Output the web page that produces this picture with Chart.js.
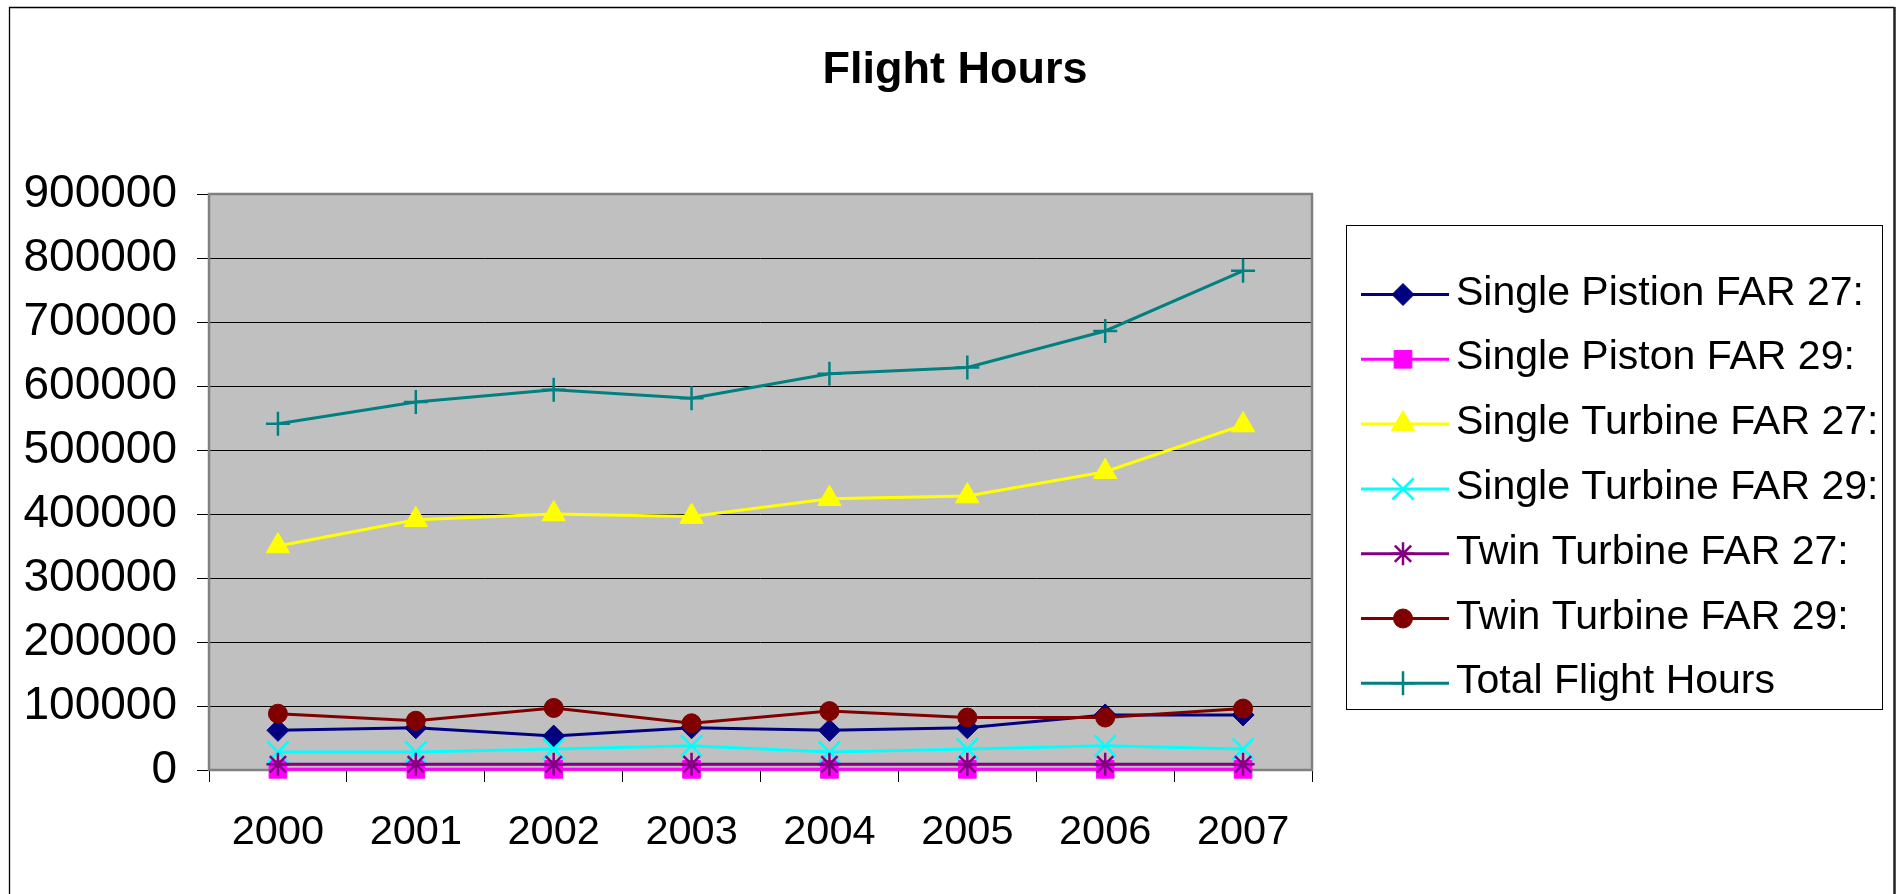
<!DOCTYPE html>
<html>
<head>
<meta charset="utf-8">
<title>Flight Hours</title>
<script src="https://cdn.jsdelivr.net/npm/chart.js@4.4.1/dist/chart.umd.min.js"></script>
<style>
  html, body { margin: 0; padding: 0; background: #fff; overflow: hidden; }
  #wrap { width: 1902px; height: 894px; position: relative; }
  canvas { display: block; }
</style>
</head>
<body>
<div id="wrap"><canvas id="chart" width="1902" height="894"></canvas></div>
<script>
// Flight hours per year, by aircraft category
const years = ['2000', '2001', '2002', '2003', '2004', '2005', '2006', '2007'];

const singlePistonFar27  = [62000, 66000, 53000, 66000, 62000, 66000, 86000, 86000];
const singlePistonFar29  = [1000, 1000, 1000, 1000, 1000, 1000, 1000, 1000];
const singleTurbineFar27 = [350000, 391000, 400000, 396000, 424000, 428000, 466000, 539000];
const singleTurbineFar29 = [28000, 28000, 33000, 38000, 28000, 33000, 38000, 33000];
const twinTurbineFar27   = [9000, 9000, 9000, 9000, 9000, 9000, 9000, 9000];
const twinTurbineFar29   = [88000, 77000, 97000, 73000, 92000, 82000, 82000, 96000];
const totalFlightHours   = [541000, 575000, 594000, 581000, 619000, 629000, 686000, 780000];

const seriesNames = [
  'Single Pistion FAR 27:',
  'Single Piston FAR 29:',
  'Single Turbine FAR 27:',
  'Single Turbine FAR 29:',
  'Twin Turbine FAR 27:',
  'Twin Turbine FAR 29:',
  'Total Flight Hours'
];

const yMin = 0;
const yMax = 900000;
const yStep = 100000;

const chartTitle = 'Flight Hours';
const FONT = '"Liberation Sans", Arial, Helvetica, sans-serif';

function series(i, data, color, style, radius, bw) {
  return {
    label: seriesNames[i],
    data: data,
    borderColor: color,
    backgroundColor: color,
    borderWidth: 3,
    pointStyle: style,
    pointRadius: radius,
    pointHoverRadius: radius,
    pointBorderWidth: bw,
    pointBackgroundColor: color,
    pointBorderColor: color,
    tension: 0,
    clip: false,
    order: 10 - i
  };
}

const datasets = [
  series(0, singlePistonFar27,  '#000080', 'rectRot',  11,   1),
  series(1, singlePistonFar29,  '#FF00FF', 'rect',     12.5, 1),
  series(2, singleTurbineFar27, '#FFFF00', 'triangle', 13.5, 1),
  series(3, singleTurbineFar29, '#00FFFF', 'crossRot', 15,   2.5),
  series(4, twinTurbineFar27,   '#800080', 'star',     11.5, 2.5),
  series(5, twinTurbineFar29,   '#800000', 'circle',   9.5,  1),
  series(6, totalFlightHours,   '#008080', 'cross',    12,   2.5)
];

// Plot background, plot frame, title, outer frame and the legend box
const decorations = {
  id: 'decorations',
  beforeDraw(chart) {
    const { ctx, chartArea: a } = chart;
    ctx.save();
    ctx.fillStyle = '#ffffff';
    ctx.fillRect(0, 0, chart.width, chart.height);
    ctx.fillStyle = '#C0C0C0';
    ctx.fillRect(a.left, a.top, a.right - a.left, a.bottom - a.top);
    ctx.restore();
  },
  beforeDatasetsDraw(chart) {
    const { ctx, chartArea: a } = chart;
    ctx.save();
    ctx.strokeStyle = '#808080';
    ctx.lineWidth = 2.5;
    ctx.strokeRect(a.left, a.top, a.right - a.left, a.bottom - a.top);
    ctx.restore();
  },
  afterDraw(chart) {
    const { ctx } = chart;
    ctx.save();

    // outer frame
    ctx.strokeStyle = '#000';
    ctx.lineWidth = 1.3;
    ctx.beginPath();
    ctx.moveTo(9.5, 900);
    ctx.lineTo(9.5, 7.5);
    ctx.lineTo(1894.5, 7.5);
    ctx.stroke();
    ctx.lineWidth = 2.5;
    ctx.strokeStyle = '#222';
    ctx.beginPath();
    ctx.moveTo(1894.5, 7);
    ctx.lineTo(1894.5, 900);
    ctx.stroke();

    // title
    ctx.fillStyle = '#000';
    ctx.font = 'bold 45px ' + FONT;
    ctx.textAlign = 'center';
    ctx.textBaseline = 'alphabetic';
    ctx.fillText(chartTitle, 955, 83);

    // legend
    const box = { left: 1346.5, top: 225.5, right: 1882.5, bottom: 709.5 };
    ctx.fillStyle = '#fff';
    ctx.fillRect(box.left, box.top, box.right - box.left, box.bottom - box.top);
    ctx.strokeStyle = '#000';
    ctx.lineWidth = 1;
    ctx.strokeRect(box.left, box.top, box.right - box.left, box.bottom - box.top);

    const firstY = 294.5;
    const rowGap = 64.8;
    chart.data.datasets.forEach((ds, i) => {
      const y = firstY + i * rowGap;
      ctx.strokeStyle = ds.borderColor;
      ctx.lineWidth = 3;
      ctx.beginPath();
      ctx.moveTo(1361, y);
      ctx.lineTo(1449, y);
      ctx.stroke();

      ctx.fillStyle = ds.pointBackgroundColor;
      ctx.strokeStyle = ds.pointBorderColor;
      ctx.lineWidth = ds.pointBorderWidth;
      Chart.helpers.drawPoint(ctx, {
        pointStyle: ds.pointStyle,
        radius: ds.pointRadius,
        rotation: 0,
        borderWidth: ds.pointBorderWidth
      }, 1403, y);

      ctx.fillStyle = '#000';
      ctx.font = '41px ' + FONT;
      ctx.textAlign = 'left';
      ctx.textBaseline = 'alphabetic';
      ctx.fillText(ds.label, 1456, y + 10);
    });

    ctx.restore();
  }
};

new Chart(document.getElementById('chart'), {
  type: 'line',
  data: { labels: years, datasets: datasets },
  plugins: [decorations],
  options: {
    responsive: false,
    animation: false,
    devicePixelRatio: 1,
    layout: { padding: { left: 0, top: 194, right: 590, bottom: 0 } },
    plugins: {
      legend: { display: false },
      title: { display: false },
      tooltip: { enabled: false }
    },
    scales: {
      x: {
        type: 'category',
        offset: true,
        grid: {
          offset: true,
          drawOnChartArea: false,
          drawTicks: true,
          tickLength: 12,
          tickColor: '#000',
          tickWidth: 1
        },
        border: { display: false },
        ticks: {
          color: '#000',
          font: { family: FONT, size: 41.5 },
          padding: 26,
          maxRotation: 0,
          autoSkip: false
        },
        afterFit(scale) { scale.height = 124; }
      },
      y: {
        min: yMin,
        max: yMax,
        grid: {
          color: '#000',
          lineWidth: 1,
          drawTicks: true,
          tickLength: 12,
          tickColor: '#000'
        },
        border: { display: false },
        ticks: {
          stepSize: yStep,
          color: '#000',
          font: { family: FONT, size: 46 },
          padding: 20,
          callback: (v) => String(v)
        },
        afterFit(scale) { scale.width = 209; }
      }
    }
  }
});
</script>
</body>
</html>
